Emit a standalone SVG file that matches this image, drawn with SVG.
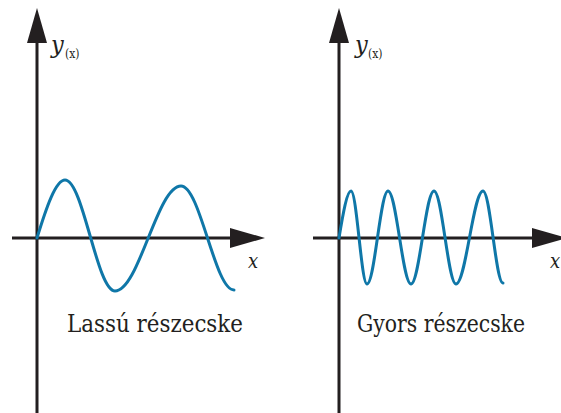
<svg xmlns="http://www.w3.org/2000/svg" width="561" height="413" viewBox="0 0 561 413">
<style>
.axis{stroke:#231f20;stroke-width:3;fill:none}
.head{fill:#231f20}
.wave{stroke:#0f77a8;stroke-width:3;fill:none;stroke-linecap:round}
.lbl{fill:#231f20;font-family:"DejaVu Serif Condensed","DejaVu Serif",serif}
.it{font-style:italic}
</style>
<rect width="561" height="413" fill="#fff"/>
<g id="connectors">
<line class="axis" x1="37" y1="40" x2="37" y2="413"/>
<polygon class="head" points="37,8 27,43 47,43"/>
<line class="axis" x1="12" y1="238" x2="233" y2="238"/>
<polygon class="head" points="265,238 230,228 230,248"/>
<line class="axis" x1="339" y1="40" x2="339" y2="413"/>
<polygon class="head" points="339,8 329,43 349,43"/>
<line class="axis" x1="313" y1="238" x2="535" y2="238"/>
<polygon class="head" points="567,238 532,228 532,248"/>
</g>
<g id="wave-slow">
<path class="wave" d="M37,238 C46.3,207.6 55.7,180 65,180 C83.2,180 96.8,291 115,291 C139,291 157,186 181,186 C200.3,186 214.7,290 234,290"/>
</g>
<g id="wave-fast">
<path class="wave" d="M339,238 C343,213.4 347,191 351,191 C356.8,191 361.2,284 367,284 C374.6,284 380.4,191 388,191 C396.4,191 402.6,284 411,284 C419.4,284 425.6,191 434,191 C442,191 448,284 456,284 C465.8,284 473.2,191 483,191 C490.3,191 495.7,283 503,283"/>
</g>
<g id="labels-left">
<text class="lbl it" x="51" y="53" font-size="25">y</text>
<text class="lbl" x="65" y="58" font-size="12">(x)</text>
<text class="lbl it" x="248" y="268" font-size="20">x</text>
<text class="lbl" x="67" y="332" font-size="25" textLength="176" lengthAdjust="spacingAndGlyphs">Lassú részecske</text>
</g>
<g id="labels-right">
<text class="lbl it" x="355" y="53" font-size="25">y</text>
<text class="lbl" x="368" y="58" font-size="12">(x)</text>
<text class="lbl it" x="550" y="268" font-size="20">x</text>
<text class="lbl" x="357" y="332" font-size="25" textLength="168" lengthAdjust="spacingAndGlyphs">Gyors részecske</text>
</g>
</svg>
